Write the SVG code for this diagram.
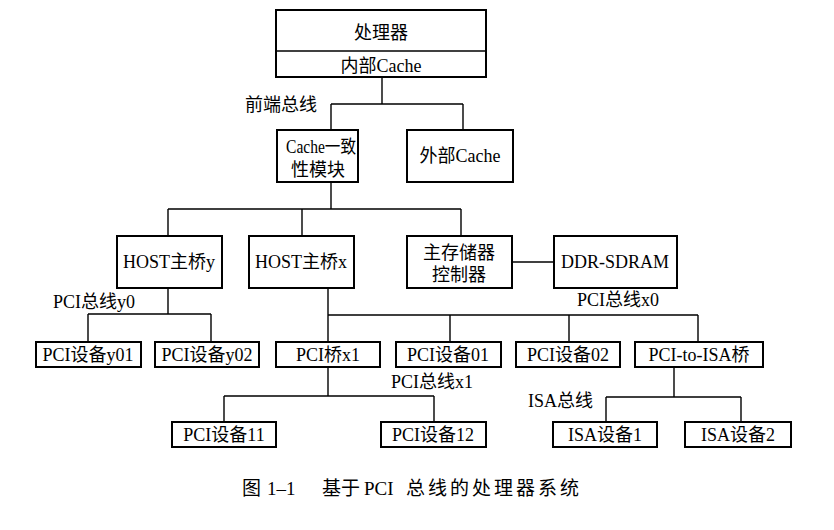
<svg xmlns="http://www.w3.org/2000/svg" width="834" height="530" viewBox="0 0 834 530">
<style>
.b{fill:#fff;stroke:#000;stroke-width:2}
.l{fill:none;stroke:#000;stroke-width:1.4}
text{font-family:"Liberation Serif","Noto Sans CJK SC",serif;font-size:18px;fill:#000;text-anchor:middle}
.s{text-anchor:start}
.c{font-size:19px}
</style>
<rect width="834" height="530" fill="#fff"/>
<g id="connectors">
<path class="l" d="M382 77V104M331 104H463M331 104V130M463 104V130"/>
<path class="l" d="M331 182V209M168 209H461M168 209V236M302 209V236M461 209V236"/>
<path class="l" d="M512 262H554"/>
<path class="l" d="M168 288V314M88 314H211M88 314V342M211 314V342"/>
<path class="l" d="M328 288V342M328 315H698M450 315V342M569 315V342M698 315V342"/>
<path class="l" d="M328 367V396M224 396H434M224 396V422M434 396V422"/>
<path class="l" d="M674 367V397M606 397H741M606 397V422M741 397V422"/>
</g>
<g id="cpu"><rect class="b" x="276" y="10" width="210" height="67"/><line class="l" x1="276" y1="51" x2="486" y2="51"/><text x="381" y="39">处理器</text><text x="381" y="72">内部Cache</text></g>
<g id="cache-coherence"><rect class="b" x="277" y="130" width="81" height="52"/><text x="286" y="153" class="s" textLength="70" lengthAdjust="spacingAndGlyphs">Cache一致</text><text x="318" y="176">性模块</text></g>
<g id="ext-cache"><rect class="b" x="407" y="130" width="106" height="52"/><text x="460" y="162">外部Cache</text></g>
<g id="host-y"><rect class="b" x="117" y="236" width="105" height="52"/><text x="169" y="268">HOST主桥y</text></g>
<g id="host-x"><rect class="b" x="249" y="236" width="105" height="52"/><text x="301" y="268">HOST主桥x</text></g>
<g id="mem-ctrl"><rect class="b" x="407" y="236" width="105" height="52"/><text x="459" y="259">主存储器</text><text x="459" y="281">控制器</text></g>
<g id="ddr"><rect class="b" x="554" y="236" width="123" height="52"/><text x="615" y="268">DDR-SDRAM</text></g>
<g id="pci-y01"><rect class="b" x="36" y="342" width="105" height="25"/><text x="88" y="361">PCI设备y01</text></g>
<g id="pci-y02"><rect class="b" x="155" y="342" width="104" height="25"/><text x="207" y="361">PCI设备y02</text></g>
<g id="pci-bridge-x1"><rect class="b" x="276" y="342" width="104" height="25"/><text x="328" y="361">PCI桥x1</text></g>
<g id="pci-01"><rect class="b" x="396" y="342" width="105" height="25"/><text x="448" y="361">PCI设备01</text></g>
<g id="pci-02"><rect class="b" x="516" y="342" width="104" height="25"/><text x="568" y="361">PCI设备02</text></g>
<g id="pci-isa"><rect class="b" x="635" y="342" width="128" height="25"/><text x="699" y="361">PCI-to-ISA桥</text></g>
<g id="pci-11"><rect class="b" x="172" y="422" width="104" height="25"/><text x="224" y="441">PCI设备11</text></g>
<g id="pci-12"><rect class="b" x="381" y="422" width="105" height="25"/><text x="433" y="441">PCI设备12</text></g>
<g id="isa-1"><rect class="b" x="553" y="422" width="104" height="25"/><text x="605" y="441">ISA设备1</text></g>
<g id="isa-2"><rect class="b" x="685" y="422" width="106" height="25"/><text x="738" y="441">ISA设备2</text></g>
<g id="labels">
<text class="s" x="245" y="111">前端总线</text>
<text class="s" x="53" y="308">PCI总线y0</text>
<text x="618" y="306">PCI总线x0</text>
<text x="432" y="388">PCI总线x1</text>
<text class="s" x="528" y="407">ISA总线</text>
</g>
<g id="caption">
<text class="s c" x="242" y="495">图</text>
<text class="s c" x="267" y="495">1–1</text>
<text class="s c" x="322" y="495">基于</text>
<text class="s c" x="364" y="495">PCI</text>
<text class="s c" x="406" y="495" style="letter-spacing:3px">总线的处理器系统</text>
</g>
</svg>
